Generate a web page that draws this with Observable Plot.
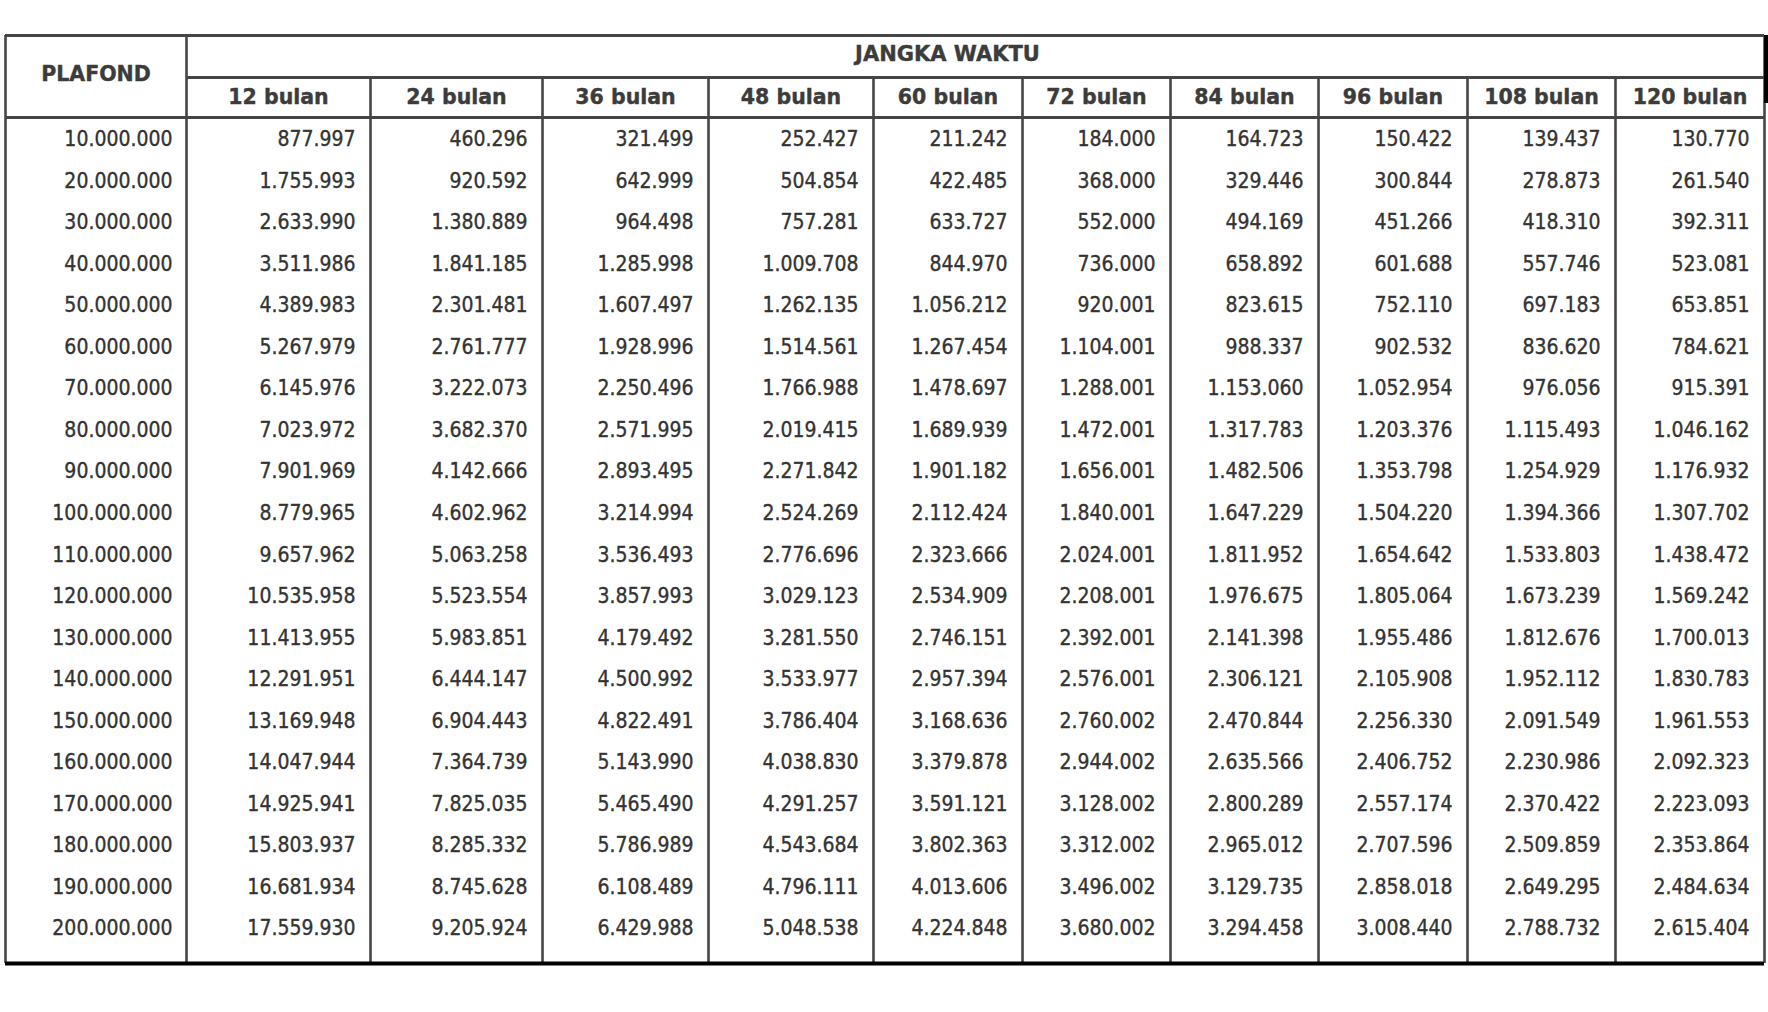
<!DOCTYPE html>
<html><head><meta charset="utf-8">
<script src="https://cdn.jsdelivr.net/npm/d3@7"></script>
<script src="https://cdn.jsdelivr.net/npm/@observablehq/plot@0.6"></script>
<style>body{margin:0;background:#fff} #chart svg{display:block}</style>
</head><body><div id="chart"></div>
<script>
// ---------- DATA ----------
const plafond = [10000000, 20000000, 30000000, 40000000, 50000000, 60000000, 70000000, 80000000, 90000000, 100000000,
  110000000, 120000000, 130000000, 140000000, 150000000, 160000000, 170000000, 180000000, 190000000, 200000000];
const terms = ["12 bulan", "24 bulan", "36 bulan", "48 bulan", "60 bulan", "72 bulan", "84 bulan", "96 bulan", "108 bulan", "120 bulan"];
const m12 = [877997, 1755993, 2633990, 3511986, 4389983, 5267979, 6145976, 7023972, 7901969, 8779965,
  9657962, 10535958, 11413955, 12291951, 13169948, 14047944, 14925941, 15803937, 16681934, 17559930];
const m24 = [460296, 920592, 1380889, 1841185, 2301481, 2761777, 3222073, 3682370, 4142666, 4602962,
  5063258, 5523554, 5983851, 6444147, 6904443, 7364739, 7825035, 8285332, 8745628, 9205924];
const m36 = [321499, 642999, 964498, 1285998, 1607497, 1928996, 2250496, 2571995, 2893495, 3214994,
  3536493, 3857993, 4179492, 4500992, 4822491, 5143990, 5465490, 5786989, 6108489, 6429988];
const m48 = [252427, 504854, 757281, 1009708, 1262135, 1514561, 1766988, 2019415, 2271842, 2524269,
  2776696, 3029123, 3281550, 3533977, 3786404, 4038830, 4291257, 4543684, 4796111, 5048538];
const m60 = [211242, 422485, 633727, 844970, 1056212, 1267454, 1478697, 1689939, 1901182, 2112424,
  2323666, 2534909, 2746151, 2957394, 3168636, 3379878, 3591121, 3802363, 4013606, 4224848];
const m72 = [184000, 368000, 552000, 736000, 920001, 1104001, 1288001, 1472001, 1656001, 1840001,
  2024001, 2208001, 2392001, 2576001, 2760002, 2944002, 3128002, 3312002, 3496002, 3680002];
const m84 = [164723, 329446, 494169, 658892, 823615, 988337, 1153060, 1317783, 1482506, 1647229,
  1811952, 1976675, 2141398, 2306121, 2470844, 2635566, 2800289, 2965012, 3129735, 3294458];
const m96 = [150422, 300844, 451266, 601688, 752110, 902532, 1052954, 1203376, 1353798, 1504220,
  1654642, 1805064, 1955486, 2105908, 2256330, 2406752, 2557174, 2707596, 2858018, 3008440];
const m108 = [139437, 278873, 418310, 557746, 697183, 836620, 976056, 1115493, 1254929, 1394366,
  1533803, 1673239, 1812676, 1952112, 2091549, 2230986, 2370422, 2509859, 2649295, 2788732];
const m120 = [130770, 261540, 392311, 523081, 653851, 784621, 915391, 1046162, 1176932, 1307702,
  1438472, 1569242, 1700013, 1830783, 1961553, 2092323, 2223093, 2353864, 2484634, 2615404];
const series = [m12, m24, m36, m48, m60, m72, m84, m96, m108, m120];
const headLeft = "PLAFOND";
const headTop = "JANGKA WAKTU";

// ---------- BUILD ----------
const fmt = d3.formatLocale({decimal: ",", thousands: ".", grouping: [3], currency: ["Rp", ""]}).format(",d");
const nCols = terms.length + 1;
const nRows = plafond.length;

const cells = plafond.flatMap((p, r) => series.map((s, c) => ({col: c + 1, row: r, v: s[r]})));
const rowLabels = plafond.map((v, r) => ({col: 0, row: r, v}));
const headers = terms.map((t, c) => ({col: c + 1, t}));

// layout (pixel edges of columns / rows)
const colEdgePx = [5, 186, 370, 542, 708, 873, 1022, 1170, 1318, 1467, 1615, 1764];
const rowEdgePx = [35, 77, 117, 948, 963];

const vLines = d3.range(nCols + 1).map(i => ({x: i, y1: (i <= 1 || i === nCols) ? -2 : -1, y2: nRows + 1}));
const hLines = [
  {y: -2, x1: 0, x2: nCols},
  {y: -1, x1: 1, x2: nCols},
  {y: 0, x1: 0, x2: nCols}
];

const FONT = "'DejaVu Sans Condensed', 'DejaVu Sans', sans-serif";
const BOLD = "'DejaVu Sans', sans-serif";
const lineColor = "#454545";
const textColor = "#333";
const headColor = "#3c3c3c";

const chart = Plot.plot({
  width: 1768,
  height: 1012,
  margin: 0,
  style: {background: "#fff"},
  x: {type: "linear", domain: d3.range(nCols + 1), range: colEdgePx, axis: null},
  y: {type: "linear", domain: [-2, -1, 0, nRows, nRows + 1], range: rowEdgePx, axis: null},
  marks: [
    Plot.ruleY(hLines, {y: "y", x1: "x1", x2: "x2", stroke: lineColor, strokeWidth: 2.8}),
    Plot.ruleX(vLines, {x: "x", y1: "y1", y2: "y2", stroke: lineColor, strokeWidth: 2.6}),
    Plot.ruleY([nRows + 1], {x1: 0, x2: nCols, stroke: "#000", strokeWidth: 4}),
    Plot.ruleX([nCols], {y1: -2, y2: -0.35, stroke: "#000", strokeWidth: 5, dx: 2}),
    // header texts
    Plot.text([headLeft], {x: 0.5, y: -1, text: d => d, fontFamily: BOLD, fontWeight: "bold", fontSize: 20.5, fill: headColor, stroke: headColor, strokeWidth: 0.4, dy: -3}),
    Plot.text([headTop], {x: nCols / 2 + 0.5, y: -1.5, text: d => d, fontFamily: BOLD, fontWeight: "bold", fontSize: 21, fill: headColor, stroke: headColor, strokeWidth: 0.4, dx: -75, dy: -2}),
    Plot.text(headers, {x: d => d.col + 0.5, y: -0.5, text: "t", fontFamily: BOLD, fontWeight: "bold", fontSize: 20.5, fill: headColor, stroke: headColor, strokeWidth: 0.4}),
    // body
    Plot.text(rowLabels, {x: d => d.col + 1, y: d => d.row + 0.5, text: d => fmt(d.v), textAnchor: "end", dx: -14, dy: 1, fontFamily: FONT, fontSize: 21, fill: textColor, stroke: textColor, strokeWidth: 0.35}),
    Plot.text(cells, {x: d => d.col + 1, y: d => d.row + 0.5, text: d => fmt(d.v), textAnchor: "end", dx: -15, dy: 1, fontFamily: FONT, fontSize: 21, fill: textColor, stroke: textColor, strokeWidth: 0.35})
  ]
});
document.getElementById("chart").append(chart);
</script>
</body></html>
